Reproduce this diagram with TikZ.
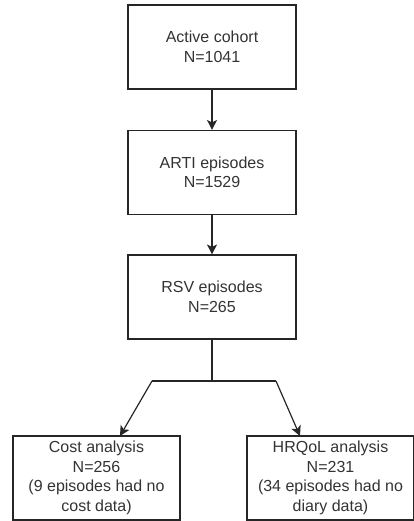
\documentclass[tikz,border=0pt]{standalone}
\usepackage{fontspec}
\setmainfont{Liberation Sans}
\usetikzlibrary{arrows.meta}
\begin{document}
\begin{tikzpicture}[x=1pt,y=-1pt,
  box/.style={draw=black!85,line width=1.1pt,minimum width=168pt,minimum height=84pt,inner sep=0pt,align=center,font=\fontsize{16}{19.5}\selectfont,text=black!80},
  sbox/.style={box,minimum width=167pt},
  conn/.style={draw=black!85,line width=1.2pt},
  arr/.style={conn,-{Stealth[length=10pt,width=10pt,inset=2.5pt]}}]
\useasboundingbox (0,0) rectangle (414,521);
\node[box] (active) at (212,47) {Active cohort\\N=1041};
\node[box] (arti) at (212,172.5) {ARTI episodes\\N=1529};
\node[box] (rsv) at (212,297) {RSV episodes\\N=265};
\node[sbox] (cost) at (96.5,478) {Cost analysis\\N=256\\(9 episodes had no\\cost data)};
\node[sbox] (hrq) at (330.5,478) {HRQoL analysis\\N=231\\(34 episodes had no\\diary data)};
\coordinate (split) at (212,381);
\coordinate (lj) at (152,381);
\coordinate (rj) at (276,381);
\coordinate (lin) at (120,436);
\coordinate (rin) at (300,436);
\draw[arr] (active) -- (arti);
\draw[arr] (arti) -- (rsv);
\draw[conn] (rsv) -- (split);
\draw[conn] (lj) -- (rj);
\draw[arr] (lj) -- (lin);
\draw[arr] (rj) -- (rin);
\end{tikzpicture}
\end{document}
